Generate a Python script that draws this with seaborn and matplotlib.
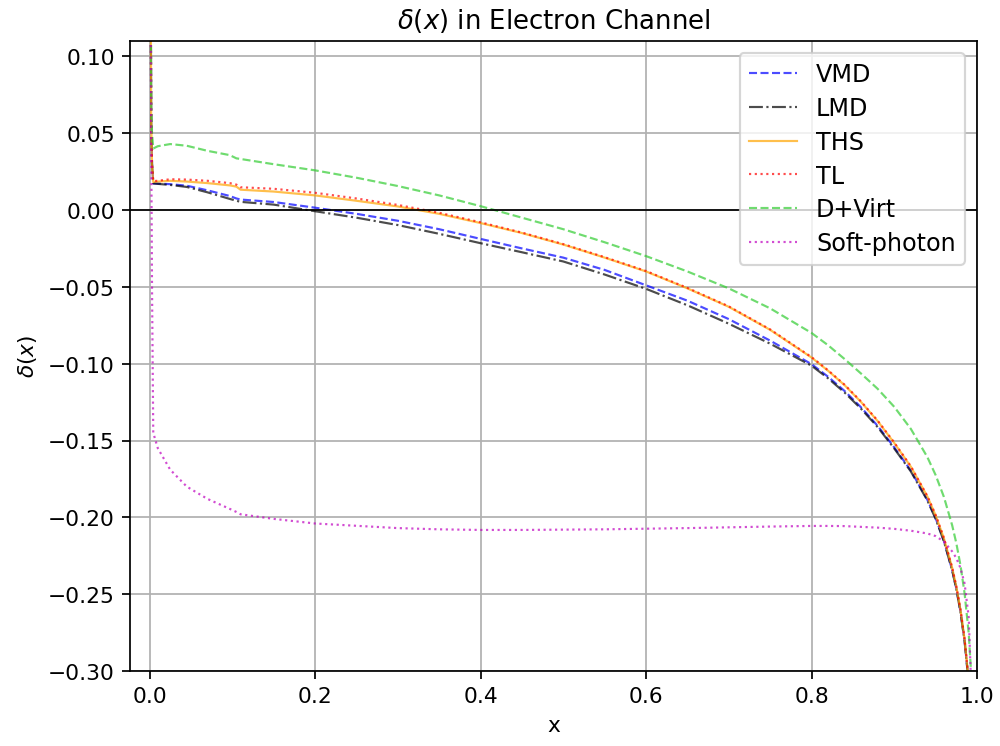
import matplotlib
matplotlib.use("Agg")
import matplotlib.pyplot as plt
import seaborn as sns
import numpy as np
import pandas as pd

# Shared x grid
x = [0.0005, 0.002, 0.003, 0.0045, 0.01, 0.025, 0.045, 0.07, 0.097, 0.105, 0.11,
     0.15, 0.2, 0.25, 0.3, 0.35, 0.4, 0.45, 0.5, 0.55, 0.6, 0.65, 0.7, 0.75, 0.8,
     0.82, 0.84, 0.86, 0.88, 0.9, 0.92, 0.94, 0.95, 0.96, 0.97, 0.975, 0.98, 0.985,
     0.99, 0.995]

vmd = [0.3, 0.06, 0.03, 0.0173, 0.0172, 0.0168, 0.0158, 0.0128, 0.0091, 0.0075, 0.0068,
       0.0052, 0.0015, -0.0025, -0.007, -0.0125, -0.0188, -0.025, -0.031, -0.039, -0.049,
       -0.059, -0.071, -0.085, -0.1003,
       -0.1085, -0.1178, -0.1285, -0.1405, -0.1545, -0.1695, -0.1885, -0.2005, -0.2152,
       -0.2343, -0.2463, -0.2612, -0.2803, -0.3075, -0.354]

lmd = [0.3, 0.06, 0.03, 0.0173, 0.017, 0.0163, 0.015, 0.0115, 0.0072, 0.006, 0.0053,
       0.0035, -0.0008, -0.005, -0.0098, -0.0155, -0.0216, -0.0275, -0.0335, -0.042, -0.0513,
       -0.062, -0.074, -0.087, -0.1013,
       -0.1095, -0.1188, -0.1294, -0.1413, -0.1552, -0.1701, -0.189, -0.201, -0.2156,
       -0.2346, -0.2466, -0.2615, -0.2806, -0.3078, -0.354]

ths = [0.3, 0.06, 0.03, 0.0182, 0.0185, 0.019, 0.0185, 0.0175, 0.016, 0.0152, 0.0132,
       0.0120, 0.0095, 0.006, 0.0023, -0.0025, -0.0085, -0.015, -0.0225, -0.031, -0.040,
       -0.051, -0.063, -0.078, -0.096,
       -0.1046, -0.114, -0.125, -0.1374, -0.1516, -0.167, -0.1864, -0.1987, -0.2136,
       -0.2329, -0.2451, -0.260, -0.2793, -0.3065, -0.353]

tl = [0.3, 0.06, 0.03, 0.0188, 0.019, 0.020, 0.0198, 0.019, 0.0175, 0.0165, 0.0148,
      0.0138, 0.0112, 0.0075, 0.0033, -0.0018, -0.0080, -0.0147, -0.0222, -0.0307, -0.0397,
      -0.0507, -0.0627, -0.0777, -0.0957,
      -0.1043, -0.1137, -0.1247, -0.1371, -0.1513, -0.1667, -0.1861, -0.1984, -0.2133,
      -0.2326, -0.2448, -0.2597, -0.279, -0.3062, -0.353]

dvirt = [0.3, 0.07, 0.05, 0.040, 0.0415, 0.0429, 0.0418, 0.0385, 0.0357, 0.0336, 0.0332,
         0.0298, 0.0258, 0.021, 0.0156, 0.0095, 0.0025, -0.005, -0.0125, -0.021, -0.030,
         -0.040, -0.051, -0.064, -0.080,
         -0.088, -0.097, -0.1065, -0.1164, -0.1281, -0.1424, -0.1608, -0.1725, -0.1867,
         -0.2052, -0.2168, -0.2311, -0.2494, -0.2754, -0.3198]

soft = [0.3, 0.05, -0.05, -0.145, -0.155, -0.169, -0.180, -0.188, -0.1945, -0.1965, -0.198,
        -0.201, -0.204, -0.2055, -0.207, -0.2078, -0.2082, -0.2082, -0.208, -0.2078, -0.2074,
        -0.207, -0.2065, -0.206, -0.2056,
        -0.2056, -0.2057, -0.2062, -0.2067, -0.2075, -0.2087, -0.2105, -0.2122, -0.2158,
        -0.2222, -0.2265, -0.2330, -0.2430, -0.2650, -0.34]

labels = ["VMD", "LMD", "THS", "TL", "D+Virt", "Soft-photon"]
series = [vmd, lmd, ths, tl, dvirt, soft]
colors = ["blue", "black", "orange", "red", "limegreen", "m"]
styles = ["--", "-.", "-", ":", "--", ":"]

plt.rcParams["font.family"] = ["DejaVu Sans"]

fig, ax = plt.subplots(figsize=(6.4, 4.78), dpi=156.25)
fig.subplots_adjust(left=0.13, right=0.977, top=0.944, bottom=0.1004)

for lab, ys, c, ls in zip(labels, series, colors, styles):
    sns.lineplot(x=x, y=ys, ax=ax, color=c, linestyle=ls, alpha=0.7,
                 linewidth=1.0, label=lab, sort=False, estimator=None)

ax.axhline(0, color="black", linewidth=0.8)
ax.set_xlim(-0.0236, 1.0)
ax.set_ylim(-0.30, 0.11)
ax.grid(True, color="#b0b0b0", linewidth=0.8)
ax.set_title(r"$\delta(x)$ in Electron Channel", fontsize=12)
ax.set_xlabel("x", fontsize=10)
ax.set_ylabel(r"$\delta(x)$", fontsize=10)
ax.tick_params(labelsize=10)
leg = ax.legend(loc="upper right", fontsize=11, frameon=True, labelspacing=0.41)

fig.savefig("out.png", dpi=156.25)
